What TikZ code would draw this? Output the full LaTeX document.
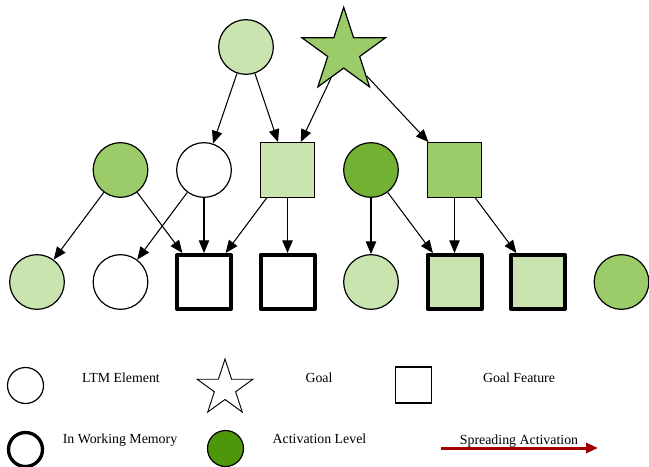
\documentclass[tikz,border=0pt]{standalone}
\usepackage{fontspec}
\setmainfont{Liberation Serif}
\usetikzlibrary{shapes.geometric,arrows.meta}
\definecolor{gLight}{HTML}{CAE4B0}
\definecolor{gMid}{HTML}{9CCC6A}
\definecolor{gDark}{HTML}{73B134}
\definecolor{gDeep}{HTML}{4E970A}
\definecolor{spread}{HTML}{A30000}
\begin{document}
\begin{tikzpicture}[x=0.75pt,y=-0.75pt,
  elem/.style={circle,draw,line width=0.9pt,minimum size=41pt,inner sep=0pt},
  feat/.style={rectangle,draw,line width=0.9pt,minimum size=41pt,inner sep=0pt},
  wmfeat/.style={feat,line width=3pt,minimum size=40.5pt,line join=round},
  goal/.style={star,star points=5,star point ratio=2.62,draw,line width=0.9pt,minimum size=66pt,inner sep=0pt},
  link/.style={line width=0.8pt,-{Triangle[length=9.5pt,width=7.8pt]}},
  lab/.style={font=\fontsize{10.4}{12}\selectfont,anchor=base,inner sep=0pt}]
\useasboundingbox (0,0) rectangle (649,467);

% long-term memory network
\node[elem,fill=gLight] (top) at (246,47) {};
\node[goal,fill=gMid] (goal) at (343.7,51.3) {};

\node[elem,fill=gMid]   (m1) at (120.5,170) {};
\node[elem,fill=white]  (m2) at (204,170) {};
\node[feat,fill=gLight] (m3) at (287.5,170) {};
\node[elem,fill=gDark]  (m4) at (371,170) {};
\node[feat,fill=gMid]   (m5) at (454.5,170) {};

\node[elem,fill=gLight]   (b0) at (37,282) {};
\node[elem,fill=white]    (b1) at (120.5,282) {};
\node[wmfeat,fill=white]  (b2) at (204,282) {};
\node[wmfeat,fill=white]  (b3) at (287.5,282) {};
\node[elem,fill=gLight]   (b4) at (371,282) {};
\node[wmfeat,fill=gLight] (b5) at (454.5,282) {};
\node[wmfeat,fill=gLight] (b6) at (538,282) {};
\node[elem,fill=gMid]     (b7) at (621.5,282) {};

% spreading links
\draw[link] (top) -- (m2);
\draw[link] (top) -- (m3);
\draw[link] (goal) -- (m3);
\draw[link] (goal) -- (m5);
\draw[link] (m1) -- (b0);
\draw[link] (m1) -- (b2);
\draw[link] (m2) -- (b1);
\draw[link] (m2) -- (b2);
\draw[link] (m3) -- (b2);
\draw[link] (m3) -- (b3);
\draw[link] (m4) -- (b4);
\draw[link] (m4) -- (b5);
\draw[link] (m5) -- (b5);
\draw[link] (m5) -- (b6);

% legend
\node[elem,minimum size=27pt] (lgElem) at (25.5,385.5) {};
\node[lab] (tElem) at (121,382.7) {LTM Element};
\node[goal,fill=white,minimum size=44pt,line width=0.7pt] (lgGoal) at (225,388.3) {};
\node[lab] (tGoal) at (319,382.7) {Goal};
\node[feat,minimum size=27pt] (lgFeat) at (413.5,385) {};
\node[lab] (tFeat) at (519,382.7) {Goal Feature};

\node[circle,draw,line width=2.5pt,minimum size=25.5pt,inner sep=0pt] (lgWM) at (25.5,449.5) {};
\node[lab] (tWM) at (120,443.7) {In Working Memory};
\node[elem,fill=gDeep,minimum size=27pt] (lgAct) at (225.5,448.5) {};
\node[lab] (tAct) at (319.5,443.7) {Activation Level};
\coordinate (sa1) at (441,448);
\coordinate (sa2) at (598,448);
\draw[spread,line width=2.25pt,-{Triangle[length=9pt,width=7.5pt]}] (sa1) -- (sa2);
\node[lab] (tSpread) at (519,444.5) {Spreading Activation};
\end{tikzpicture}
\end{document}
